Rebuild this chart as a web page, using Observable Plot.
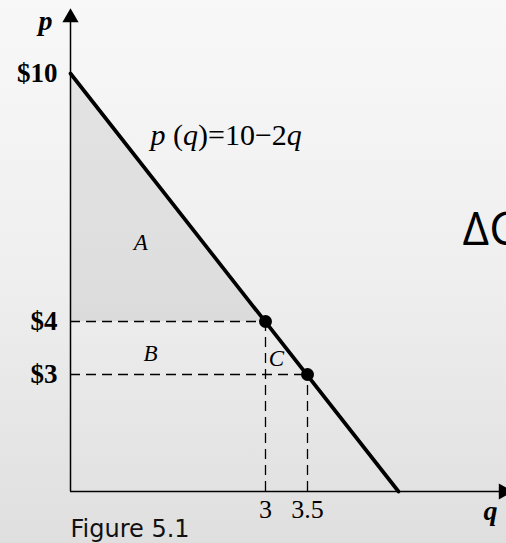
<!DOCTYPE html>
<html>
<head>
<meta charset="utf-8">
<script src="https://cdn.jsdelivr.net/npm/d3@7"></script>
<script src="https://cdn.jsdelivr.net/npm/@observablehq/plot@0.6"></script>
<style>
  html, body { margin: 0; padding: 0; width: 506px; height: 543px; overflow: hidden;
    background: linear-gradient(to bottom, #f8f8f8 0%, #efefef 50%, #dfdfdf 100%); }
  #chart svg { display: block; background: transparent; overflow: hidden; }
</style>
</head>
<body>
<div id="chart"></div>
<script>
// ---- data ----
const demandQ = [0, 5];
const demandP = [10, 0];
const pointQ = [3, 3.5];
const pointP = [4, 3];
const pTicks = [10, 4, 3];
const pTickLabels = ["$10", "$4", "$3"];
const qTicks = [3, 3.5];
const qTickLabels = ["3", "3.5"];
const shadeP = [4, 10];           // area A: under the curve above p = 4
const shadeQ = [3, 0];
const regionLabels = ["A", "B", "C"];
const regionQ = [1.08, 1.23, 3.13];
const regionP = [5.9, 3.4, 3.3];
const qAxisEnd = 6.73;
const pAxisEnd = 11.35;
const curveLabel = "p (q)=10−2q";
const caption = "Figure 5.1";
const sideText = "ΔCS";

const demand = demandQ.map((q, i) => ({q, p: demandP[i]}));
const points = pointQ.map((q, i) => ({q, p: pointP[i]}));
const shade = shadeQ.map((q, i) => ({q, p: shadeP[i]}));
const pTickData = pTicks.map((p, i) => ({p, label: pTickLabels[i]}));
const qTickData = qTicks.map((q, i) => ({q, label: qTickLabels[i]}));
const regions = regionLabels.map((t, i) => ({t, q: regionQ[i], p: regionP[i]}));

const serif = "Liberation Serif, Times New Roman, serif";

const chart = Plot.plot({
  width: 506,
  height: 543,
  margin: 0,
  style: {background: "transparent", overflow: "hidden"},
  x: {type: "linear", domain: [0, 3, 3.5, 5], range: [70, 265, 307, 398], axis: null},
  y: {type: "linear", domain: [0, 3, 4, 10], range: [491, 374, 321, 73], axis: null},
  marks: [
    Plot.areaX(shade, {y: "p", x1: 0, x2: "q", fill: "#000", fillOpacity: 0.07}),
    // axes
    Plot.ruleX([0], {y1: 0, y2: pAxisEnd, stroke: "#000", strokeWidth: 1.5}),
    Plot.ruleY([0], {x1: 0, x2: qAxisEnd, stroke: "#000", strokeWidth: 1.5}),
    Plot.dot([0], {x: 0, y: pAxisEnd, symbol: "triangle", r: 6, fill: "#000", stroke: null}),
    Plot.dot([0], {x: qAxisEnd, y: 0, symbol: "triangle", r: 6, rotate: 90, fill: "#000", stroke: null}),
    // dashed guides
    Plot.ruleY(points, {y: "p", x1: 0, x2: "q", stroke: "#000", strokeWidth: 1.3, strokeDasharray: "10,6"}),
    Plot.ruleX(points, {x: "q", y1: 0, y2: "p", stroke: "#000", strokeWidth: 1.3, strokeDasharray: "10,6"}),
    // demand curve
    Plot.line(demand, {x: "q", y: "p", stroke: "#000", strokeWidth: 3.7}),
    Plot.dot(points, {x: "q", y: "p", r: 6.5, fill: "#000", stroke: null}),
    // tick labels
    Plot.text(pTickData, {x: 0, y: "p", text: "label", dx: -13, textAnchor: "end", fontFamily: serif, fontSize: 27, fontWeight: "bold", fill: "#000"}),
    Plot.text(qTickData, {x: "q", y: 0, text: "label", dy: 18, fontFamily: serif, fontSize: 26, fill: "#000"}),
    // axis titles
    Plot.text(["p"], {x: 0, y: pAxisEnd, text: d => d, dx: -25, dy: 3, fontFamily: serif, fontSize: 28, fontStyle: "italic", fontWeight: "bold", fill: "#000"}),
    Plot.text(["q"], {x: qAxisEnd, y: 0, text: d => d, dx: -13, dy: 20, fontFamily: serif, fontSize: 28, fontStyle: "italic", fontWeight: "bold", fill: "#000"}),
    // region labels
    Plot.text(regions, {x: "q", y: "p", text: "t", fontFamily: serif, fontSize: 23, fontStyle: "italic", fill: "#000"}),
    // curve label
    Plot.text([curveLabel], {x: 1, y: 8, text: d => d, dx: 15, dy: -21, textAnchor: "start", fontFamily: serif, fontSize: 30, fill: "#000", className: "curve-label"}),
    // side text (cut off at the right edge, as in the reference)
    Plot.text([sideText], {frameAnchor: "top-left", text: d => d, dx: 462, dy: 244, lineAnchor: "bottom", textAnchor: "start", fontFamily: "Open Sans, sans-serif", fontSize: 46, fill: "#000"}),
    // caption
    Plot.text([caption], {frameAnchor: "bottom-left", text: d => d, dx: 70, dy: -7, lineAnchor: "bottom", textAnchor: "start", fontFamily: "DejaVu Sans, sans-serif", fontSize: 24, fill: "#111"})
  ]
});

// italicise the variables in the curve label with tspans
d3.select(chart).selectAll(".curve-label text").each(function() {
  const t = d3.select(this);
  const s = t.text();
  const parts = [["p", true], [" (", false], ["q", true], [")=10−2", false], ["q", true]];
  if (parts.map(d => d[0]).join("") !== s) return;
  t.text(null);
  for (const [txt, it] of parts) {
    t.append("tspan").attr("font-style", it ? "italic" : "normal").text(txt);
  }
});

document.getElementById("chart").appendChild(chart);
</script>
</body>
</html>
